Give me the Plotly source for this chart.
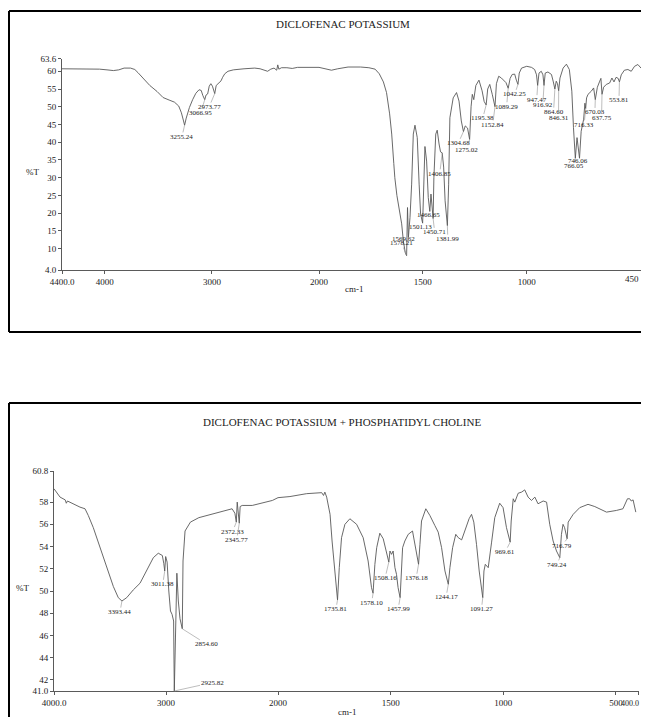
import plotly.graph_objects as go

# The page body adds an 8 px margin on every side; keep the figure inside the 649x725 window.
PAGE_MARGIN = 8
W, H = 649 - 2 * PAGE_MARGIN, 725 - 2 * PAGE_MARGIN

# ---------------- Data: Diclofenac potassium (top) ----------------
TOP_TITLE = "DICLOFENAC POTASSIUM"
TOP_WN = [4400, 4300, 4150, 4050, 3980, 3920, 3870, 3820, 3760, 3720, 3690, 3643, 3580, 3512,
          3456, 3400, 3350, 3310, 3285, 3265, 3255.24, 3240, 3210, 3180, 3150, 3120, 3100, 3085,
          3066.95, 3055, 3040, 3025, 3010, 2995, 2973.77, 2960, 2945, 2930, 2915, 2900, 2880,
          2850, 2800, 2700, 2600, 2550, 2500, 2480, 2450, 2420, 2395, 2385, 2375, 2350, 2300,
          2250, 2200, 2100, 2000,
          1960, 1940, 1910, 1860, 1800, 1760, 1730, 1710, 1690, 1675, 1660, 1650, 1640, 1635,
          1625, 1619, 1610, 1602, 1594, 1585, 1578.21, 1574, 1569.62, 1562, 1554, 1546, 1538,
          1527, 1518, 1511, 1501.13, 1497, 1490, 1482, 1474, 1466.65, 1461, 1450.71, 1447,
          1438, 1431, 1422, 1415, 1406.85, 1400, 1393, 1381.99, 1376, 1370, 1354, 1338, 1326,
          1315, 1304.68, 1296, 1285, 1275.02, 1268, 1262, 1255, 1245, 1230, 1215, 1205,
          1195.38, 1188, 1178, 1166, 1152.84, 1146, 1135, 1122, 1110, 1100, 1089.29, 1080,
          1070, 1058, 1050, 1042.25, 1036, 1025, 1000, 977, 962, 953, 947.47, 941, 930, 922,
          916.92, 911, 898, 881, 872, 864.60, 858, 852, 846.31, 840, 825, 809, 795, 783, 775,
          766.05, 758, 746.06, 738, 730, 726, 720, 716.33, 712, 705, 689, 678, 670.03, 660,
          650, 643, 637.75, 630, 617, 601, 590, 580, 570, 560, 553.81, 545, 530, 513, 497,
          481, 465, 455, 450]
TOP_T = [60.7, 60.7, 60.7, 60.6, 60.4, 60.2, 60.4, 60.9, 60.9, 60.5, 59.6, 58.0, 56.0, 54.3,
         52.6, 51.9, 51.3, 50.2, 48.3, 46.0, 44.8, 46.8, 49.8, 52.0, 53.8, 54.8, 54.6, 53.2,
         52.0, 53.3, 53.6, 55.8, 56.5, 55.8, 53.7, 56.0, 56.5, 57.0, 57.3, 58.3, 59.3,
         60.0, 60.4, 60.7, 60.9, 60.7, 60.2, 60.0, 60.6, 60.9, 60.3, 61.8, 60.6, 61.0, 61.0,
         60.8, 61.1, 61.2, 61.1,
         60.7, 60.3, 60.7, 61.2, 61.2, 61.0, 60.6, 59.3, 57.0, 54.0, 48.0, 42.3, 34.0, 30.0,
         25.0, 22.6, 19.0, 17.0, 12.2, 9.0, 8.0, 21.6, 13.2, 18.8, 28.2, 42.3, 44.8,
         41.3, 28.2, 19.8, 17.2, 28.2, 38.8, 34.7, 24.4, 20.5, 25.4, 18.5, 30.0,
         42.3, 43.4, 39.5, 37.3, 37.0, 33.0, 23.5, 16.5, 28.0, 46.9, 52.5, 54.0, 51.6,
         46.0, 43.0, 44.6, 44.0, 40.8, 50.0, 53.5, 52.0, 56.0, 57.5, 54.5, 51.5,
         50.5, 55.0, 56.3, 53.5, 50.0, 56.5, 58.6, 58.1, 57.3, 56.8, 55.2, 58.0,
         59.1, 59.2, 57.5, 56.3, 59.5, 60.9, 61.4, 61.1, 60.5, 59.0, 56.0, 59.5, 60.0, 59.0,
         56.0, 59.5, 59.8, 59.1, 57.0, 55.0, 57.2, 56.5, 54.5, 58.1, 60.9, 62.0, 60.5, 54.4, 44.1,
         35.5, 41.3, 35.5, 43.1, 45.0, 46.5, 51.0, 49.5, 52.5, 53.5, 54.4, 55.3, 52.0, 55.5,
         57.0, 58.0, 53.5, 55.5, 56.3, 56.7, 58.1, 57.0, 58.3, 58.0, 57.0, 59.0, 60.3, 60.5, 60.0,
         61.4, 61.9, 61.3, 60.9]
TOP_PEAKS = [3255.24, 3066.95, 2973.77, 1578.21, 1569.62, 1501.13, 1466.65, 1450.71, 1381.99,
             1406.85, 1304.68, 1275.02, 1195.38, 1152.84, 1089.29, 1042.25, 947.47, 916.92,
             864.60, 846.31, 766.05, 746.06, 716.33, 670.03, 637.75, 553.81]
TOP_LABEL_WN = [3280, 3105, 3027, 1602, 1592, 1511, 1471, 1443, 1380,
                1419, 1330, 1289, 1212, 1164, 1097, 1058, 952, 923,
                871, 847, 772, 755, 724, 672, 640, 556]
TOP_LABEL_T = [41.5, 48.3, 49.9, 11.6, 12.8, 16.2, 19.5, 14.6, 12.7,
               31.1, 39.7, 37.9, 46.7, 44.9, 50.0, 53.5, 52.0, 50.4,
               48.5, 46.7, 33.2, 34.8, 44.9, 48.4, 46.7, 51.8]
TOP_YTICKS = [4.0, 10, 15, 20, 25, 30, 35, 40, 45, 50, 55, 60, 63.6]
TOP_YTEXT = ["4.0", "10", "15", "20", "25", "30", "35", "40", "45", "50", "55", "60", "63.6"]
TOP_XTICKS_HI = [4400, 4000, 3000, 2000]
TOP_XTEXT_HI = ["4400.0", "4000", "3000", "2000"]
TOP_XTICKS_LO = [1500, 1000, 450]
TOP_XTEXT_LO = ["1500", "1000", "450"]

# ---------------- Data: + phosphatidyl choline (bottom) ----------------
BOT_TITLE = "DICLOFENAC POTASSIUM + PHOSPHATIDYL CHOLINE"
BOT_WN = [4000, 3946, 3900, 3890, 3880, 3842, 3768, 3723, 3700, 3694, 3649, 3589, 3530, 3470,
          3426, 3393.44, 3351, 3292, 3232, 3172, 3113, 3069, 3033, 3020, 3011.38, 3003, 2990,
          2975, 2960, 2946, 2932, 2925.82, 2918, 2912, 2903, 2890, 2875, 2854.60, 2848, 2830,
          2782, 2707, 2588, 2469, 2410, 2385, 2372.33, 2364, 2356, 2345.77, 2338, 2320, 2230,
          2100, 2050, 2000,
          1947, 1873, 1806, 1798, 1792, 1784, 1777, 1769, 1760, 1750, 1742, 1735.81, 1728,
          1718, 1703, 1681, 1651, 1622, 1600, 1585, 1578.10, 1570, 1562, 1548, 1533, 1518,
          1508.16, 1503, 1496, 1489, 1481, 1474, 1467, 1457.99, 1453, 1447, 1437, 1422, 1403,
          1392, 1376.18, 1370, 1363, 1344, 1326, 1304, 1289, 1274, 1259, 1244.17, 1237, 1225,
          1211, 1200, 1185, 1171, 1152, 1141, 1131, 1119, 1107, 1091.27, 1086, 1080, 1067,
          1052, 1038, 1016, 1001, 986, 969.61, 965, 956, 949, 934, 919, 905, 890, 875, 860,
          846, 823, 808, 794, 779, 764, 749.24, 742, 735, 728, 716.79, 712, 690, 661, 624,
          594, 572, 542, 498, 469, 449, 439, 432, 424, 412]
BOT_T = [59.2, 58.45, 58.2, 57.9, 58.1, 57.9, 57.55, 57.4, 57.0, 56.8, 55.7, 53.9, 52.1, 50.4,
         49.4, 49.1, 49.4, 50.1, 50.7, 51.8, 53.0, 53.4, 53.2, 52.5, 51.8, 53.1, 52.6,
         50.0, 48.2, 47.9, 47.3, 41.0, 44.8, 49.1, 51.6, 49.1, 47.5, 46.6, 52.7, 55.4,
         56.2, 56.6, 56.9, 57.2, 57.4, 57.0, 56.2, 58.0, 56.9, 56.1, 57.6, 57.7, 57.7,
         58.0, 58.15, 58.4,
         58.5, 58.76, 58.85, 58.6, 58.9, 58.45, 57.85, 56.9, 54.5, 52.0, 50.3, 49.2, 52.1,
         54.8, 56.0, 56.5, 56.0, 54.8, 52.7, 50.3, 49.8, 52.4, 53.9, 55.2, 54.7, 53.3,
         52.6, 53.6, 53.3, 53.6, 52.1, 51.5, 50.3, 49.4, 51.2, 53.9, 54.5, 55.1, 55.4,
         54.2, 52.4, 54.2, 56.3, 57.4, 56.8, 55.9, 55.3, 53.9, 51.8, 50.6, 52.1, 53.9,
         55.1, 54.8, 54.6, 55.4, 56.5, 56.9, 56.2, 54.2, 51.8, 49.4, 51.8, 52.4, 52.1,
         54.4, 56.6, 57.9, 57.5, 55.7, 54.4, 56.3, 58.3, 58.0, 58.8, 58.9, 59.1, 58.45, 58.15, 58.45,
         57.85, 58.1, 58.0, 56.0, 54.5, 53.6, 53.0, 55.1, 56.0, 55.7, 54.7, 56.2, 56.9, 57.5, 57.8,
         57.6, 57.4, 57.1, 57.25, 57.4, 58.3, 58.3, 58.1, 58.2, 57.1]
BOT_PEAKS = [3393.44, 3011.38, 2854.60, 2925.82, 2372.33, 2345.77, 1735.81, 1578.10, 1508.16,
             1457.99, 1376.18, 1244.17, 1091.27, 969.61, 749.24, 716.79]
BOT_LABEL_WN = [3411, 3029, 2634, 2589, 2405, 2368, 1743, 1584, 1525,
                1467, 1387, 1254, 1097, 992, 763, 741]
BOT_LABEL_T = [48.1, 50.6, 45.2, 41.75, 55.35, 54.6, 48.36, 48.95, 51.15,
               48.36, 51.15, 49.44, 48.36, 53.5, 52.35, 54.06]
BOT_YTICKS = [41.0, 42, 44, 46, 48, 50, 52, 54, 56, 58, 60.8]
BOT_YTEXT = ["41.0", "42", "44", "46", "48", "50", "52", "54", "56", "58", "60.8"]
BOT_XTICKS_HI = [4000, 3000, 2000]
BOT_XTEXT_HI = ["4000.0", "3000", "2000"]
BOT_XTICKS_LO = [1500, 1000, 500, 400]
BOT_XTEXT_LO = ["1500", "1000", "500", "400.0"]

SPLIT = 2000  # spectrometer abscissa scale change

# ---------------- Styles ----------------
SERIF = "Liberation Serif, Times New Roman, serif"
LINE_C = "#585858"
AX_C = "#5a5a5a"
TXT_C = "#222222"


def px(x):
    """window pixel -> paper fraction"""
    return min(1.0, (x - PAGE_MARGIN) / W)


def py(y):
    return 1 - (y - PAGE_MARGIN) / H


def split(wn, t):
    hi = [(a, b) for a, b in zip(wn, t) if a >= SPLIT]
    lo = [(a, b) for a, b in zip(wn, t) if a <= SPLIT]
    return hi, lo


fig = go.Figure()

top_hi, top_lo = split(TOP_WN, TOP_T)
bot_hi, bot_lo = split(BOT_WN, BOT_T)
for seg, xa, ya in [(top_hi, "x", "y"), (top_lo, "x2", "y"), (bot_hi, "x3", "y2"), (bot_lo, "x4", "y2")]:
    fig.add_trace(go.Scatter(x=[p[0] for p in seg], y=[p[1] for p in seg], mode="lines",
                             line=dict(color=LINE_C, width=0.9), xaxis=xa, yaxis=ya,
                             hoverinfo="skip", showlegend=False, cliponaxis=False))

axis_common = dict(showline=True, linecolor=AX_C, linewidth=1, ticks="outside", ticklen=3,
                   tickwidth=1, tickcolor=AX_C, showgrid=False, zeroline=False, automargin=False,
                   ticklabeloverflow="allow",
                   tickfont=dict(family=SERIF, size=9, color=TXT_C), fixedrange=True)

# the right-most tick label of each lower-wavenumber axis sits at the window edge:
# it is written as a right-aligned annotation instead of a centred tick label
fig.update_layout(
    template="none",
    width=W, height=H, margin=dict(l=0, r=0, t=0, b=0, pad=0), autosize=False,
    paper_bgcolor="white", plot_bgcolor="white", showlegend=False,
    font=dict(family=SERIF, color=TXT_C),
    xaxis=dict(axis_common, domain=[px(62), px(319)], range=[4400, 2000], anchor="y",
               tickmode="array", tickvals=TOP_XTICKS_HI, ticktext=TOP_XTEXT_HI),
    xaxis2=dict(axis_common, domain=[px(319), px(641.5)], range=[2000, 450], anchor="y",
                tickmode="array", tickvals=TOP_XTICKS_LO, ticktext=TOP_XTEXT_LO[:-1] + [""]),
    yaxis=dict(axis_common, domain=[py(270), py(58.5)], range=[4, 63.6], anchor="x",
               tickmode="array", tickvals=TOP_YTICKS, ticktext=TOP_YTEXT),
    xaxis3=dict(axis_common, domain=[px(54), px(278)], range=[4000, 2000], anchor="y2",
                tickmode="array", tickvals=BOT_XTICKS_HI, ticktext=BOT_XTEXT_HI),
    xaxis4=dict(axis_common, domain=[px(278), px(638.5)], range=[2000, 400], anchor="y2",
                tickmode="array", tickvals=BOT_XTICKS_LO, ticktext=BOT_XTEXT_LO[:-1] + [""]),
    yaxis2=dict(axis_common, domain=[py(691), py(471)], range=[41, 60.8], anchor="x3",
                tickmode="array", tickvals=BOT_YTICKS, ticktext=BOT_YTEXT),
)

annotations = []


def peak_notes(peaks, lwn, lt, wn_list, t_list, xa_hi, xa_lo, ya):
    for p, lx, ly in zip(peaks, lwn, lt):
        t = t_list[wn_list.index(p)]
        xa = xa_hi if p >= SPLIT else xa_lo
        annotations.append(dict(x=p, y=t, xref=xa, yref=ya, axref=xa, ayref=ya, ax=lx, ay=ly,
                                text=f"{p:.2f}", showarrow=True, arrowhead=0, arrowwidth=0.6,
                                arrowcolor="#909090", standoff=0, borderpad=0,
                                font=dict(family=SERIF, size=7, color=TXT_C)))


peak_notes(TOP_PEAKS, TOP_LABEL_WN, TOP_LABEL_T, TOP_WN, TOP_T, "x", "x2", "y")
peak_notes(BOT_PEAKS, BOT_LABEL_WN, BOT_LABEL_T, BOT_WN, BOT_T, "x3", "x4", "y2")

# edge tick labels, right-aligned against the window edge
for val, txt, xa, yy, shift, size in [(TOP_XTICKS_LO[-1], TOP_XTEXT_LO[-1], "x2", 279, 0, 9),
                                      (BOT_XTICKS_LO[-1], BOT_XTEXT_LO[-1], "x4", 703, 2.5, 8)]:
    annotations.append(dict(text=txt, x=val, y=py(yy), xref=xa, yref="paper", showarrow=False,
                            xanchor="right", yanchor="middle", xshift=shift,
                            font=dict(family=SERIF, size=size, color=TXT_C)))

texts = [
    (TOP_TITLE, 343, 24, 11), ("cm-1", 354, 289, 9), ("%T", 32, 172, 9),
    (BOT_TITLE, 342, 422, 11), ("cm-1", 347, 711.5, 9), ("%T", 23, 588, 9),
]
for txt, x, y, s in texts:
    annotations.append(dict(text=txt, x=px(x), y=py(y), xref="paper", yref="paper",
                            showarrow=False, xanchor="center", yanchor="middle",
                            font=dict(family=SERIF, size=s, color=TXT_C)))
fig.update_layout(annotations=annotations)

# open frames around each spectrum sheet (top, left and bottom edges; right side runs off the page)
frame = dict(color="black", width=2)
for x0, y0, x1, y1 in [(9, 11, 700, 11), (9, 11, 9, 332), (9, 332, 700, 332),
                       (9, 403, 700, 403), (9, 403, 9, 760)]:
    fig.add_shape(type="line", xref="paper", yref="paper",
                  x0=(x0 - PAGE_MARGIN) / W, x1=(x1 - PAGE_MARGIN) / W,
                  y0=py(y0), y1=py(y1), line=frame, layer="below")

fig.write_html("out.html")
